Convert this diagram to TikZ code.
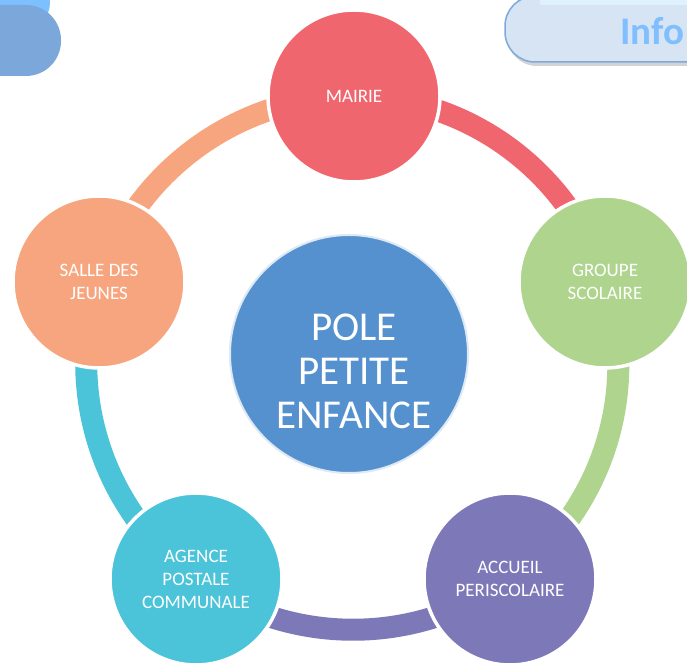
\documentclass[tikz,border=0pt]{standalone}
\usepackage{fontspec}
\setmainfont{Carlito}
\usetikzlibrary{backgrounds,shadows}
\definecolor{mairiecol}{HTML}{F0666E}
\definecolor{groupecol}{HTML}{AED48E}
\definecolor{accueilcol}{HTML}{7D78B8}
\definecolor{agencecol}{HTML}{4BC3D9}
\definecolor{sallecol}{HTML}{F7A57F}
\definecolor{polecol}{HTML}{5591CE}
\definecolor{infofill}{HTML}{D6E4F3}
\definecolor{infoband}{HTML}{DDF2FC}
\definecolor{infoline}{HTML}{7FA9DA}
\definecolor{infotext}{HTML}{80BFFF}
\definecolor{tabcol}{HTML}{7BA7DA}
\definecolor{tabtop}{HTML}{7CC0FF}
\begin{document}
\begin{tikzpicture}[x=1pt, y=1pt,
    site/.style={circle, minimum size=172pt, draw=white, line width=3.5pt,
        text=white, align=center, font=\fontsize{19}{23}\selectfont},
    hub/.style={circle, minimum size=238pt, fill=polecol, draw=white!80!polecol, line width=2pt},
    ring/.style={line width=22pt, bend left=36, looseness=0.94}]
    \useasboundingbox (0,0) rectangle (687,668);
    \clip (0,0) rectangle (687,668);
    \fill[tabtop, rounded corners=25] (-60,640) rectangle (50,690);
    \fill[tabcol, rounded corners=35] (-80,592) rectangle (61,663);
    \draw[infoline, fill=infofill, line width=1.5pt, rounded corners=30,
        drop shadow={shadow xshift=2pt, shadow yshift=-4pt, opacity=0.35}]
        (505,606) rectangle (740,672);
    \fill[infoband] (540,663) rectangle (740,668);
    \node[font=\fontsize{39}{39}\selectfont\bfseries, text=infotext, inner sep=0pt,
        anchor=base west] (info) at (620,623) {Info};
    \node[hub] (pole) at (349,314) {};
    \node[font=\fontsize{41}{44}\selectfont, text=white, align=center] (poletext) at (354,297)
        {POLE\\PETITE\\ENFANCE};
    \node[site, fill=mairiecol] (mairie) at (354,572) {MAIRIE};
    \node[site, fill=groupecol] (groupe) at (605,386) {GROUPE\\SCOLAIRE};
    \node[site, fill=accueilcol] (accueil) at (510,89) {ACCUEIL\\PERISCOLAIRE};
    \node[site, fill=agencecol] (agence) at (196,89) {AGENCE\\POSTALE\\COMMUNALE};
    \node[site, fill=sallecol] (salle) at (99,386) {SALLE DES\\JEUNES};
    \begin{scope}[on background layer]
        \draw[ring, mairiecol] (mairie.center) to (groupe.center);
        \draw[ring, groupecol] (groupe.center) to (accueil.center);
        \draw[ring, accueilcol] (accueil.center) to (agence.center);
        \draw[ring, agencecol] (agence.center) to (salle.center);
        \draw[ring, sallecol] (salle.center) to (mairie.center);
    \end{scope}
\end{tikzpicture}
\end{document}
